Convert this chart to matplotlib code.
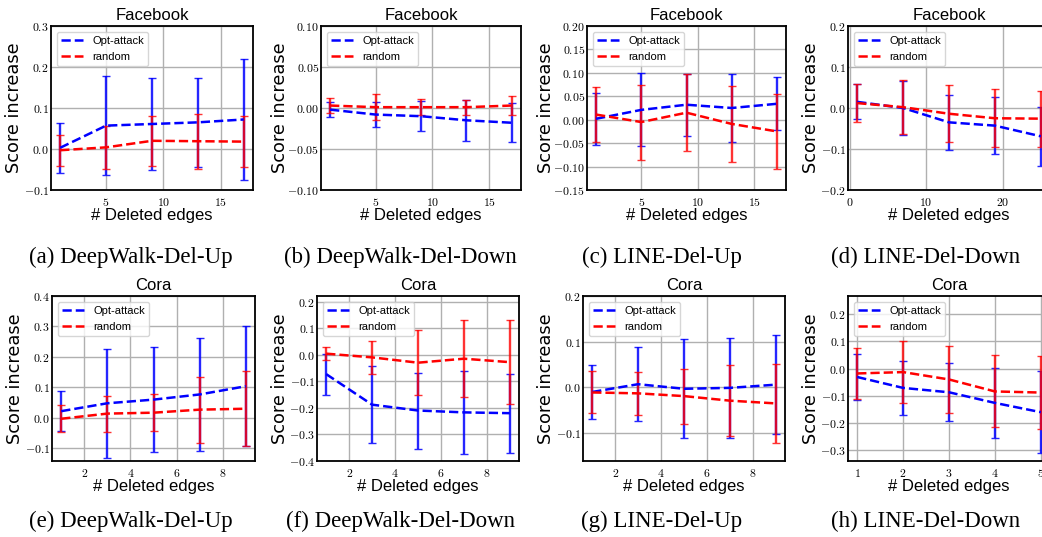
import matplotlib
matplotlib.use("Agg")
import matplotlib.pyplot as plt
from matplotlib.ticker import MultipleLocator, FuncFormatter

plt.rcParams['mathtext.fontset'] = 'cm'

# ---------------------------------------------------------
# data (mean score increase and error)
# ---------------------------------------------------------
fb_x = [1, 5, 9, 13, 17]
fb_line_x = [1, 7, 13, 19, 25]
cora_x = [1, 3, 5, 7, 9]
cora_line_x = [1, 2, 3, 4, 5]

# (a) DeepWalk-Del-Up, Facebook
a_opt = [0.003, 0.057, 0.061, 0.065, 0.072]
a_opt_err = [0.061, 0.120, 0.112, 0.109, 0.147]
a_rnd = [-0.003, 0.004, 0.020, 0.019, 0.018]
a_rnd_err = [0.038, 0.053, 0.061, 0.067, 0.063]

# (b) DeepWalk-Del-Down, Facebook
b_opt = [-0.002, -0.008, -0.010, -0.015, -0.018]
b_opt_err = [0.009, 0.015, 0.018, 0.025, 0.024]
b_rnd = [0.003, 0.001, 0.001, 0.001, 0.003]
b_rnd_err = [0.009, 0.016, 0.010, 0.009, 0.012]

# (c) LINE-Del-Up, Facebook
c_opt = [0.002, 0.021, 0.032, 0.025, 0.034]
c_opt_err = [0.055, 0.078, 0.066, 0.073, 0.057]
c_rnd = [0.011, -0.005, 0.015, -0.009, -0.025]
c_rnd_err = [0.058, 0.080, 0.082, 0.081, 0.080]

# (d) LINE-Del-Down, Facebook
d_opt = [0.015, 0.000, -0.035, -0.043, -0.069]
d_opt_err = [0.043, 0.066, 0.067, 0.069, 0.072]
d_rnd = [0.012, 0.002, -0.014, -0.025, -0.026]
d_rnd_err = [0.047, 0.066, 0.069, 0.071, 0.068]

# (e) DeepWalk-Del-Up, Cora
e_opt = [0.021, 0.047, 0.059, 0.076, 0.103]
e_opt_err = [0.066, 0.180, 0.173, 0.186, 0.198]
e_rnd = [-0.004, 0.013, 0.016, 0.026, 0.029]
e_rnd_err = [0.044, 0.059, 0.060, 0.109, 0.123]

# (f) DeepWalk-Del-Down, Cora
f_opt = [-0.073, -0.188, -0.210, -0.217, -0.220]
f_opt_err = [0.077, 0.145, 0.143, 0.156, 0.149]
f_rnd = [0.004, -0.010, -0.030, -0.015, -0.028]
f_rnd_err = [0.025, 0.063, 0.122, 0.144, 0.158]

# (g) LINE-Del-Up, Cora
g_opt = [-0.010, 0.007, -0.003, -0.001, 0.006]
g_opt_err = [0.059, 0.081, 0.108, 0.109, 0.109]
g_rnd = [-0.011, -0.013, -0.019, -0.029, -0.035]
g_rnd_err = [0.046, 0.047, 0.060, 0.077, 0.087]

# (h) LINE-Del-Down, Cora
h_opt = [-0.031, -0.071, -0.087, -0.126, -0.160]
h_opt_err = [0.084, 0.098, 0.107, 0.127, 0.150]
h_rnd = [-0.018, -0.013, -0.040, -0.084, -0.088]
h_rnd_err = [0.092, 0.115, 0.122, 0.132, 0.134]

captions = ["(a) DeepWalk-Del-Up", "(b) DeepWalk-Del-Down",
            "(c) LINE-Del-Up", "(d) LINE-Del-Down",
            "(e) DeepWalk-Del-Up", "(f) DeepWalk-Del-Down",
            "(g) LINE-Del-Up", "(h) LINE-Del-Down"]

W, H = 1042, 537
fig = plt.figure(figsize=(W / 100, H / 100), dpi=100)


def make_ax(l, r, t, b):
    return fig.add_axes([l / W, 1 - b / H, (r - l) / W, (b - t) / H])


def draw(ax, x, opt, opt_err, rnd, rnd_err, title, ylim, ystep, ydec, xstep):
    ax.errorbar(x, opt, yerr=opt_err, fmt='none', ecolor='blue',
                elinewidth=1.7, capsize=2.8, capthick=1.0, alpha=0.85, zorder=3)
    ax.errorbar(x, rnd, yerr=rnd_err, fmt='none', ecolor='red',
                elinewidth=1.7, capsize=2.8, capthick=1.0, alpha=0.8, zorder=3.1)
    ax.plot(x, opt, '--', color='blue', lw=1.8, label='Opt-attack', zorder=4)
    ax.plot(x, rnd, '--', color='red', lw=1.8, label='random', zorder=4)

    ax.set_ylim(*ylim)
    ax.yaxis.set_major_locator(MultipleLocator(ystep))
    ax.xaxis.set_major_locator(MultipleLocator(xstep))
    ax.yaxis.set_major_formatter(FuncFormatter(lambda v, p: f"${v:.{ydec}f}$"))
    ax.xaxis.set_major_formatter(FuncFormatter(lambda v, p: f"${v:g}$"))
    ax.tick_params(axis='y', labelsize=8.5, length=0, pad=1.5)
    ax.tick_params(axis='x', labelsize=8.5, length=0, pad=4.5)

    ax.grid(True, color='#b0b0b0', lw=1.0)
    ax.set_axisbelow(True)
    for s in ax.spines.values():
        s.set_linewidth(1.3)

    ax.set_title(title, fontsize=12, family='Liberation Sans', pad=4)
    ax.set_xlabel('# Deleted edges', fontsize=12, family='Liberation Sans', labelpad=-1)
    ax.set_ylabel('Score increase', fontsize=12.8, family='DejaVu Sans')
    # label sits a fixed number of pixels left of the spine
    off = 32 if ydec == 2 else 28
    ax.yaxis.set_label_coords(-off / ax.bbox.width, 0.5)
    ax.legend(loc='upper left', prop={'family': 'Liberation Sans', 'size': 8},
              handlelength=2.0, framealpha=0.8, edgecolor='#cccccc')


# top row: Facebook
ax = make_ax(51, 253, 26, 190)
draw(ax, fb_x, a_opt, a_opt_err, a_rnd, a_rnd_err, 'Facebook', (-0.1, 0.3), 0.1, 1, 5)
ax = make_ax(321, 521, 26, 190)
draw(ax, fb_x, b_opt, b_opt_err, b_rnd, b_rnd_err, 'Facebook', (-0.1, 0.1), 0.05, 2, 5)
ax = make_ax(587, 786, 26, 190)
draw(ax, fb_x, c_opt, c_opt_err, c_rnd, c_rnd_err, 'Facebook', (-0.15, 0.2), 0.05, 2, 5)
ax = make_ax(848, 1050, 26, 190)
draw(ax, fb_line_x, d_opt, d_opt_err, d_rnd, d_rnd_err, 'Facebook', (-0.2, 0.2), 0.1, 1, 10)

# bottom row: Cora
ax = make_ax(52, 255, 296, 461)
draw(ax, cora_x, e_opt, e_opt_err, e_rnd, e_rnd_err, 'Cora', (-0.143, 0.4), 0.1, 1, 2)
ax = make_ax(317, 519, 296, 461)
draw(ax, cora_x, f_opt, f_opt_err, f_rnd, f_rnd_err, 'Cora', (-0.4, 0.221), 0.1, 1, 2)
ax = make_ax(583, 785, 296, 461)
draw(ax, cora_x, g_opt, g_opt_err, g_rnd, g_rnd_err, 'Cora', (-0.161, 0.2), 0.1, 1, 2)
ax = make_ax(848, 1050, 296, 461)
draw(ax, cora_line_x, h_opt, h_opt_err, h_rnd, h_rnd_err, 'Cora', (-0.339, 0.266), 0.1, 1, 1)

# sub-captions
cap_x = [131, 400, 662, 926]
cap_y = [263, 527]
for i, txt in enumerate(captions):
    fig.text(cap_x[i % 4] / W, 1 - cap_y[i // 4] / H, txt, ha='center', va='baseline',
             fontsize=16.5, family='Liberation Serif')

fig.savefig('out.png', dpi=100)
